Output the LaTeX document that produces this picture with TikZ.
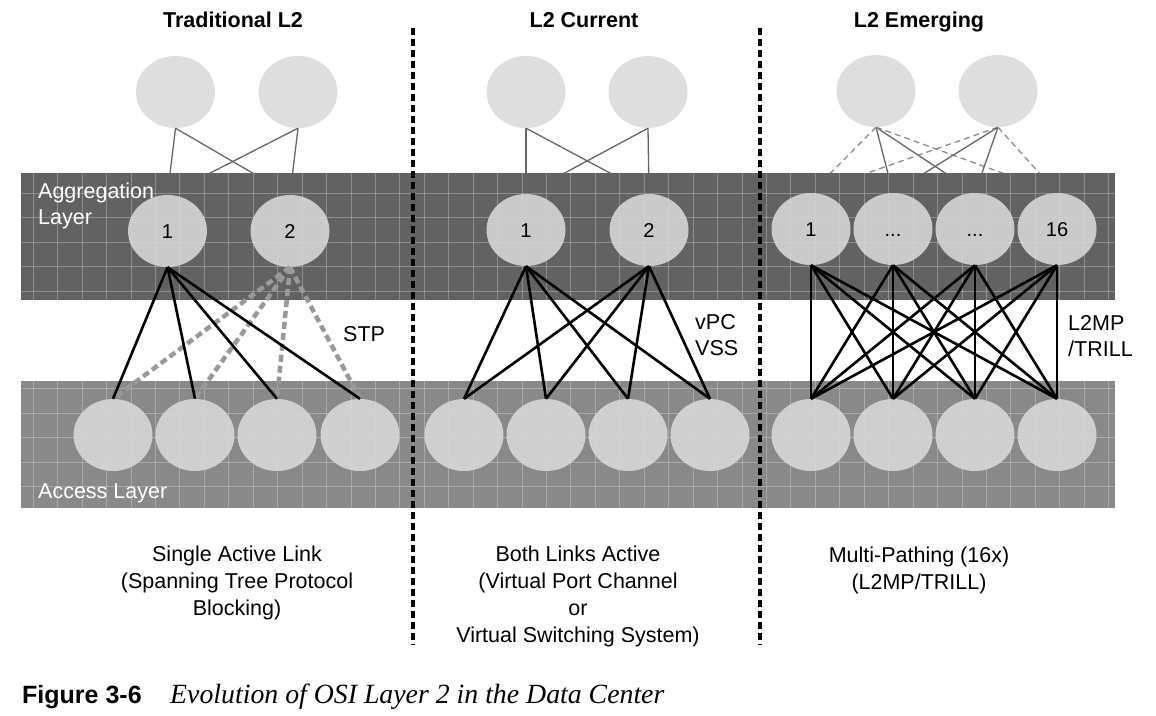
\documentclass[tikz,border=0pt]{standalone}
\usepackage{fontspec}
\setmainfont{Liberation Sans}
\newfontfamily\capserif{Liberation Serif}
\usetikzlibrary{shapes.geometric}
\pgfdeclarelayer{back}
\pgfdeclarelayer{band}
\pgfsetlayers{back,band,main}
\definecolor{aggband}{HTML}{626262}
\definecolor{accband}{HTML}{898989}
\definecolor{switchfill}{HTML}{D9D9D9}

\begin{document}
\begin{tikzpicture}[x=1pt, y=-1pt,
    switch/.style={ellipse, fill=switchfill, fill opacity=0.88, text opacity=1,
      minimum width=79pt, minimum height=72pt, inner sep=0pt, text height=14pt, text depth=0pt,
      font=\fontsize{20}{24}\selectfont},
    uplink/.style={draw=black!60, line width=1.3pt},
    updash/.style={draw=black!45, line width=1.3pt, dash pattern=on 6pt off 4pt},
    link/.style={draw=black, line width=2.6pt},
    blocked/.style={draw=black!40, line width=4.5pt, dash pattern=on 7pt off 4pt},
    divider/.style={draw=black, line width=4.5pt, dash pattern=on 7pt off 4pt},
    title/.style={font=\bfseries\fontsize{21.5}{25}\selectfont, anchor=base, inner sep=0pt},
    layerlabel/.style={text=white, font=\fontsize{21.5}{26}\selectfont, align=left, anchor=base west, inner sep=0pt},
    proto/.style={font=\fontsize{21.5}{25.5}\selectfont, align=left, anchor=base west, inner sep=0pt},
    note/.style={font=\fontsize{21.5}{26.7}\selectfont, align=center, anchor=base, inner sep=0pt}]
  \useasboundingbox (0,0) rectangle (1156,715);

  % layer bands with grid
  \begin{pgfonlayer}{band}
    \fill[aggband] (21,173) rectangle (1115,300);
    \fill[accband] (21,381) rectangle (1115,508);
    \begin{scope}
      \clip (21,173) rectangle (1115,300) (21,381) rectangle (1115,508);
      \foreach \i in {0,...,44}
        \draw[white, opacity=0.28, line width=1pt] ({33.3+24.44*\i},170) -- ({33.3+24.44*\i},510);
      \foreach \j in {0,...,13}
        \draw[white, opacity=0.28, line width=1pt] (18,{193.3+24.44*\j}) -- (1118,{193.3+24.44*\j});
    \end{scope}
  \end{pgfonlayer}

  % traditional L2
  \node[switch] (ltop1) at (175.5,92) {};
  \node[switch] (ltop2) at (298,92) {};
  \node[switch] (lagg1) at (167.5,231) {1};
  \node[switch] (lagg2) at (290,231) {2};
  \node[switch] (lacc1) at (113,435) {};
  \node[switch] (lacc2) at (195,435) {};
  \node[switch] (lacc3) at (277,435) {};
  \node[switch] (lacc4) at (360,435) {};

  % L2 current
  \node[switch] (mtop1) at (526,92) {};
  \node[switch] (mtop2) at (648,92) {};
  \node[switch] (magg1) at (526,230) {1};
  \node[switch] (magg2) at (649,230) {2};
  \node[switch] (macc1) at (464,435) {};
  \node[switch] (macc2) at (546,435) {};
  \node[switch] (macc3) at (628,435) {};
  \node[switch] (macc4) at (710,435) {};

  % L2 emerging
  \node[switch] (rtop1) at (876,91) {};
  \node[switch] (rtop2) at (998,91) {};
  \node[switch] (ragg1) at (811,229) {1};
  \node[switch] (ragg2) at (893,229) {...};
  \node[switch] (ragg3) at (975,229) {...};
  \node[switch] (ragg4) at (1057,229) {16};
  \node[switch] (racc1) at (811,435) {};
  \node[switch] (racc2) at (893,435) {};
  \node[switch] (racc3) at (975,435) {};
  \node[switch] (racc4) at (1057,435) {};

  % core links (behind the aggregation band)
  \begin{pgfonlayer}{back}
    \foreach \p in {l,m} {
      \draw[uplink] (\p top1.south) -- (\p agg1.north);
      \draw[uplink] (\p top1.south) -- (\p agg2.north);
      \draw[uplink] (\p top2.south) -- (\p agg1.north);
      \draw[uplink] (\p top2.south) -- (\p agg2.north);
    }
    \foreach \t in {1,2} {
      \draw[updash] (rtop\t.south) -- (ragg1.north);
      \draw[uplink] (rtop\t.south) -- (ragg2.north);
      \draw[uplink] (rtop\t.south) -- (ragg3.north);
      \draw[updash] (rtop\t.south) -- (ragg4.north);
    }
  \end{pgfonlayer}

  % access links
  \foreach \c in {1,...,4} {
    \draw[blocked] (lagg2.south) -- (lacc\c.north);
    \draw[link] (lagg1.south) -- (lacc\c.north);
    \draw[link] (magg1.south) -- (macc\c.north);
    \draw[link] (magg2.south) -- (macc\c.north);
    \foreach \a in {1,...,4}
      \draw[link] (ragg\a.south) -- (racc\c.north);
  }

  % labels (base = last line)
  \node[layerlabel] (agglabel) at (38,224) {Aggregation\\Layer};
  \node[layerlabel] (acclabel) at (38,498) {Access Layer};
  \node[proto] (stp) at (343,341) {STP};
  \node[proto] (vpc) at (695,355) {vPC\\VSS};
  \node[proto] (l2mp) at (1068,356) {L2MP\\/TRILL};

  \node[title] (ltitle) at (233,27) {Traditional L2};
  \node[title] (mtitle) at (584,27) {L2 Current};
  \node[title] (rtitle) at (919,27) {L2 Emerging};

  \node[note] (lnote) at (237,615) {Single Active Link\\(Spanning Tree Protocol\\Blocking)};
  \node[note] (mnote) at (578,642) {Both Links Active\\(Virtual Port Channel\\or\\Virtual Switching System)};
  \node[note] (rnote) at (919,589) {Multi-Pathing (16x)\\(L2MP/TRILL)};

  \draw[divider] (413,28) -- (413,645);
  \draw[divider] (760,28) -- (760,645);

  % caption
  \node[anchor=base west, inner sep=0pt, font=\bfseries\fontsize{25}{29}\selectfont] (figno) at (22,703) {Figure 3-6};
  \node[anchor=base west, inner sep=0pt, font=\capserif\itshape\fontsize{27.8}{31}\selectfont] (figtitle) at (170,703) {Evolution of OSI Layer 2 in the Data Center};
\end{tikzpicture}
\end{document}
